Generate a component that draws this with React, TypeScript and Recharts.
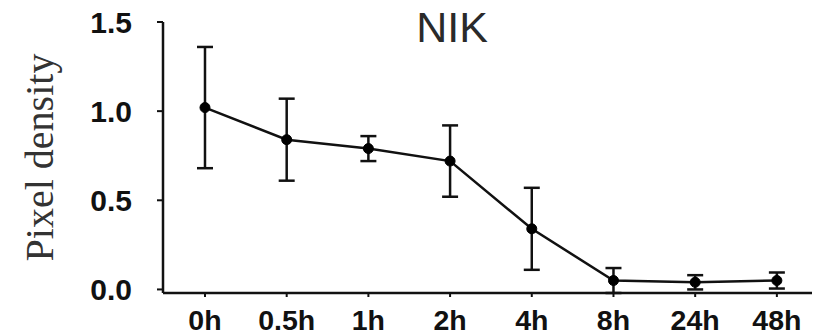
import { LineChart, Line, XAxis, YAxis, ErrorBar, Label } from "recharts";

const categories = ["0h", "0.5h", "1h", "2h", "4h", "8h", "24h", "48h"];
const means = [1.02, 0.84, 0.79, 0.72, 0.34, 0.05, 0.04, 0.05];
const errors = [0.34, 0.23, 0.07, 0.2, 0.23, 0.07, 0.04, 0.045];
const yTicks = [0, 0.5, 1.0, 1.5];
const xTicks = categories.map((_, i) => i);

const data = categories.map((c, i) => ({
  x: i,
  label: c,
  mean: means[i],
  err: errors[i],
}));

const tickFont = "'Liberation Sans', Arial, sans-serif";

export default function App() {
  return (
    <div style={{ position: "absolute", left: 0, top: 0, width: 819, height: 336, background: "#fff" }}>
      <div
        style={{
          position: "absolute",
          left: 352,
          top: 6,
          width: 200,
          textAlign: "center",
          fontFamily: tickFont,
          fontSize: 43,
          lineHeight: "43px",
          color: "#2a2a2a",
        }}
      >
        NIK
      </div>
      <LineChart
        width={819}
        height={336}
        data={data}
        margin={{ top: 22, right: 7, bottom: 0, left: 0 }}
      >
        <XAxis
          dataKey="x"
          type="number"
          domain={[-0.514, 7.43]}
          ticks={xTicks}
          allowDataOverflow
          tickFormatter={(v: number) => categories[v] ?? ""}
          height={43}
          axisLine={{ stroke: "#111", strokeWidth: 2.5 }}
          tickLine={{ stroke: "#111", strokeWidth: 2 }}
          tickSize={4}
          tickMargin={13}
          tick={{ fontSize: 28.5, fontWeight: 700, fill: "#111", fontFamily: tickFont }}
        />
        <YAxis
          type="number"
          domain={[0, 1.5]}
          ticks={yTicks}
          width={163}
          tickFormatter={(v: number) => v.toFixed(1)}
          axisLine={{ stroke: "#111", strokeWidth: 2.5 }}
          tickLine={{ stroke: "#111", strokeWidth: 2 }}
          tickSize={6}
          tickMargin={25}
          tick={{ fontSize: 30, fontWeight: 700, fill: "#111", fontFamily: tickFont }}
        >
          <Label
            value="Pixel density"
            angle={-90}
            position="insideLeft"
            offset={39}
            style={{
              textAnchor: "middle",
              fontSize: 40,
              fontFamily: "'Liberation Serif', 'Times New Roman', serif",
              fill: "#333",
            }}
          />
        </YAxis>
        <Line
          dataKey="mean"
          type="linear"
          stroke="#111"
          strokeWidth={2.5}
          dot={{ r: 5, fill: "#000", stroke: "#000", strokeWidth: 1 }}
          isAnimationActive={false}
        >
          <ErrorBar
            dataKey="err"
            direction="y"
            width={8}
            stroke="#111"
            strokeWidth={2.5}
            isAnimationActive={false}
          />
        </Line>
      </LineChart>
    </div>
  );
}
